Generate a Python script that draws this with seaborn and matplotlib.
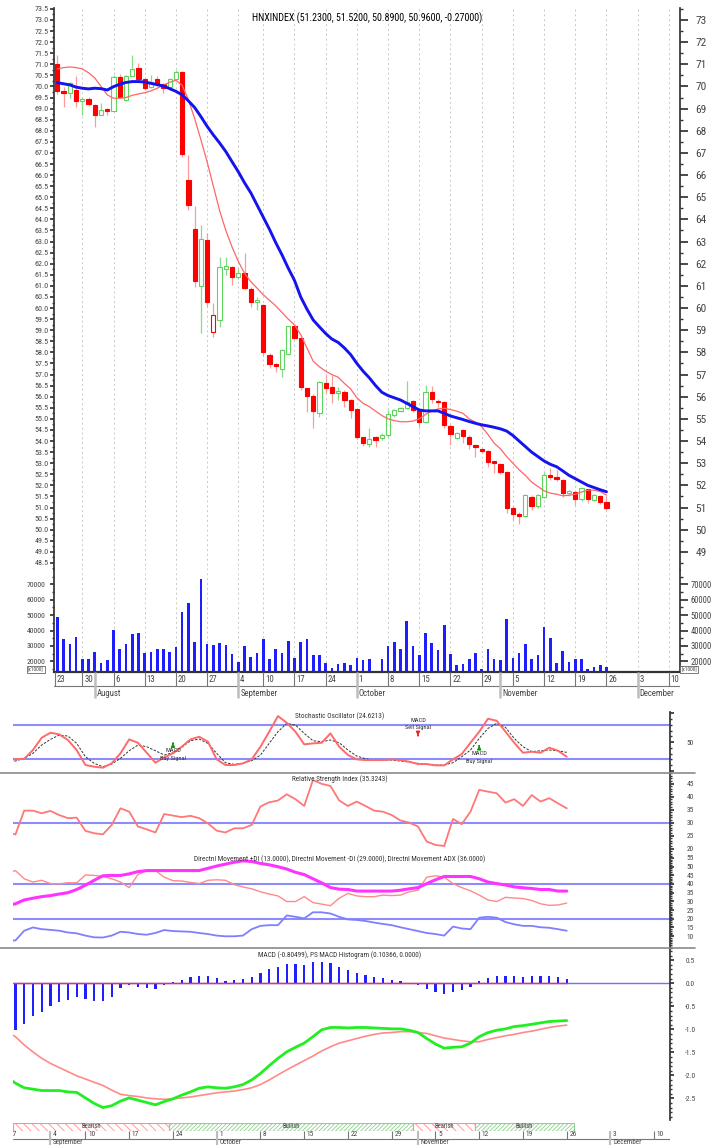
import matplotlib
matplotlib.use("Agg")
import matplotlib.pyplot as plt
import seaborn as sns
import pandas as pd
from matplotlib import font_manager
from matplotlib.lines import Line2D
from matplotlib.patches import Rectangle
from matplotlib.ticker import MultipleLocator, FixedLocator, FormatStrFormatter

# ---------------- data (trading day index, 0 = 23 Jul 2012) ----------------
days = list(range(1, 90))
opens = [71.00, 69.80, 69.70, 69.85, 69.33, 69.42, 69.16, 68.72, 68.98, 68.90,
         70.44, 69.40, 70.47, 70.85, 70.34, 69.96, 70.34, 70.10, 69.96, 70.32,
         70.64, 65.78, 63.57, 61.00, 63.06, 58.93, 59.46, 61.77, 61.84, 61.40,
         61.60, 60.86, 60.29, 60.14, 57.88, 57.48, 57.24, 57.91, 59.20, 58.66,
         56.38, 56.03, 55.28, 56.63, 56.42, 56.15, 56.23, 55.85, 55.43, 54.17,
         53.88, 54.18, 54.12, 54.27, 55.18, 55.37, 55.48, 55.81, 55.40, 54.87,
         56.20, 55.82, 55.75, 54.68, 54.15, 54.50, 54.20, 53.80, 53.66, 53.56,
         53.08, 52.96, 52.60, 51.00, 50.72, 50.60, 51.49, 51.05, 51.49, 52.48,
         52.36, 52.24, 51.64, 51.70, 51.38, 51.82, 51.36, 51.52, 51.23]
highs = [71.42, 69.96, 70.20, 70.47, 69.50, 69.54, 69.20, 69.24, 69.05, 70.50,
         70.55, 70.50, 71.42, 71.05, 70.40, 70.52, 70.45, 70.15, 70.40, 70.72,
         70.68, 66.90, 64.62, 63.75, 63.40, 60.24, 62.32, 62.32, 61.90, 61.80,
         62.50, 60.95, 60.50, 60.20, 57.95, 57.50, 58.15, 59.20, 59.25, 58.70,
         56.40, 56.10, 56.70, 56.98, 56.96, 56.45, 56.30, 55.90, 55.45, 54.20,
         54.57, 54.22, 54.35, 55.40, 55.45, 55.55, 56.71, 55.85, 55.45, 56.53,
         56.48, 55.90, 55.80, 54.75, 54.40, 54.55, 54.25, 53.85, 53.70, 53.60,
         53.12, 53.00, 52.65, 51.05, 50.78, 51.60, 51.55, 51.60, 52.60, 52.77,
         52.70, 52.28, 51.80, 51.75, 51.90, 51.85, 51.60, 51.58, 51.52]
lows = [69.65, 69.09, 69.47, 69.09, 68.71, 69.10, 68.19, 68.70, 68.71, 68.89,
        69.50, 69.35, 70.45, 70.20, 69.85, 69.94, 70.00, 69.69, 69.85, 70.30,
        66.83, 64.43, 60.97, 58.89, 60.06, 58.71, 59.16, 61.50, 61.04, 61.30,
        60.85, 60.06, 59.91, 57.84, 57.28, 57.13, 56.90, 57.90, 58.60, 56.30,
        55.32, 54.57, 55.10, 56.17, 55.70, 55.85, 55.55, 55.03, 54.10, 53.78,
        53.72, 53.75, 54.05, 54.20, 55.10, 55.30, 55.45, 55.30, 54.65, 54.80,
        55.70, 55.55, 54.60, 53.82, 54.10, 53.90, 53.65, 53.29, 53.45, 52.84,
        52.54, 52.50, 50.74, 50.44, 50.26, 50.55, 50.89, 51.00, 51.45, 52.25,
        52.20, 51.46, 51.50, 51.11, 51.30, 51.22, 51.30, 51.15, 50.89]
closes = [69.81, 69.70, 70.14, 69.35, 69.45, 69.20, 68.71, 68.94, 68.90, 70.44,
          69.54, 70.47, 70.78, 70.34, 69.95, 70.22, 70.10, 69.92, 70.32, 70.64,
          66.95, 64.65, 61.22, 63.10, 60.26, 59.69, 61.84, 61.88, 61.42, 61.60,
          60.89, 60.26, 60.36, 58.03, 57.48, 57.40, 58.10, 59.19, 58.66, 56.45,
          56.05, 55.37, 56.68, 56.38, 56.18, 56.25, 55.85, 55.40, 54.20, 53.90,
          54.08, 54.06, 54.27, 55.20, 55.40, 55.50, 55.77, 55.40, 54.87, 56.20,
          55.88, 55.75, 54.72, 54.32, 54.34, 54.23, 53.87, 53.72, 53.56, 53.07,
          53.00, 52.59, 51.00, 50.71, 50.62, 51.56, 51.07, 51.56, 52.47, 52.36,
          52.27, 51.64, 51.74, 51.37, 51.87, 51.37, 51.56, 51.23, 50.96]
volume = [48960, 34300, 31200, 35800, 21700, 21300, 26000, 19100, 20800, 40100,
          28000, 31200, 37900, 38600, 25400, 26000, 27800, 28200, 26000, 29100,
          52200, 57700, 32500, 73200, 31200, 30400, 32100, 30600, 24500, 19500,
          29700, 22800, 25600, 34700, 21700, 27800, 25200, 33200, 22300, 32700,
          34300, 24300, 24300, 18700, 15800, 18200, 19100, 17600, 22300, 20800,
          21300, 13500, 21700, 30100, 32500, 28200, 46000, 29700, 24300, 38400,
          32100, 27100, 43800, 24900, 17400, 18100, 21700, 25200, 14800, 28200,
          21700, 20800, 47500, 22100, 25200, 31200, 21700, 23900, 42300, 35100,
          18900, 26500, 19500, 21500, 21300, 15000, 16500, 17400, 16300]
ma_fast = [70.79, 70.85, 70.88, 70.85, 70.79, 70.62, 70.38, 70.00, 69.62, 69.47,
           69.47, 69.50, 69.60, 69.66, 69.72, 69.80, 69.92, 70.06, 70.19, 70.28,
           70.05, 69.40, 68.55, 67.60, 66.60, 65.50, 64.40, 63.50, 62.75, 62.10,
           61.57, 61.19, 60.90, 60.60, 60.35, 60.10, 59.80, 59.50, 59.24, 58.80,
           58.20, 57.60, 57.35, 57.15, 57.00, 56.88, 56.60, 56.35, 55.95, 55.70,
           55.55, 55.35, 55.15, 55.00, 54.92, 54.87, 54.87, 54.90, 55.00, 55.20,
           55.35, 55.45, 55.48, 55.42, 55.35, 55.25, 55.00, 54.85, 54.65, 54.30,
           53.90, 53.65, 53.30, 53.00, 52.70, 52.45, 52.15, 51.95, 51.75, 51.65,
           51.60, 51.53, 51.55, 51.60, 51.70, 51.78, 51.78, 51.72, 51.56]
ma_slow = [70.17, 70.12, 70.07, 69.97, 69.92, 69.89, 69.92, 69.90, 69.84, 69.99,
           70.10, 70.18, 70.22, 70.22, 70.20, 70.14, 70.08, 70.02, 69.90, 69.78,
           69.62, 69.35, 69.05, 68.64, 68.20, 67.81, 67.45, 67.06, 66.60, 66.15,
           65.65, 65.20, 64.65, 64.10, 63.55, 62.95, 62.40, 61.80, 61.25, 60.50,
           59.95, 59.46, 59.15, 58.85, 58.60, 58.45, 58.20, 57.90, 57.50, 57.15,
           56.85, 56.50, 56.20, 56.05, 55.95, 55.85, 55.70, 55.55, 55.40, 55.36,
           55.36, 55.36, 55.25, 55.13, 55.05, 54.97, 54.88, 54.80, 54.73, 54.68,
           54.62, 54.55, 54.45, 54.25, 54.00, 53.75, 53.50, 53.30, 53.10, 52.95,
           52.84, 52.65, 52.45, 52.30, 52.15, 52.00, 51.90, 51.80, 51.71]

ind_days = list(range(25, 90))
stoch_k = [19.0, 20.0, 21.1, 36.1, 57.5, 66.2, 63.3, 53.5, 36.1, 10.2, 7.3, 5.6, 13.1,
           30.4, 54.6, 48.8, 31.5, 14.2, 23.5, 30.4, 41.9, 54.6, 59.2, 50.6, 20.0,
           10.2, 10.2, 13.1, 20.0, 41.9, 67.9, 95.0, 83.5, 67.9, 46.0, 47.7, 48.8,
           65.0, 41.9, 27.5, 20.0, 18.8, 18.8, 18.8, 20.0, 18.8, 15.9, 11.9, 11.9,
           9.6, 9.6, 20.0, 29.2, 48.8, 67.9, 90.4, 86.9, 67.9, 48.8, 31.5, 33.3,
           31.5, 40.2, 35.0, 24.6]
stoch_d = [16.0, 17.1, 21.7, 30.4, 44.8, 54.6, 62.1, 60.4, 47.7, 24.6, 13.1, 7.3, 11.9,
           21.7, 35.0, 44.8, 41.9, 35.0, 27.5, 31.5, 40.8, 52.3, 55.2, 47.7, 30.4,
           14.2, 11.3, 13.1, 17.7, 27.5, 47.7, 67.9, 82.3, 79.4, 65.0, 52.3, 50.6,
           53.5, 48.8, 36.1, 25.8, 21.1, 18.8, 18.8, 18.8, 17.1, 15.4, 13.1, 11.3,
           10.2, 10.2, 14.2, 24.6, 36.1, 56.3, 73.7, 82.3, 75.4, 56.3, 41.9, 33.3,
           35.0, 36.1, 35.0, 32.1]
rsi = [26.5, 25.4, 34.6, 34.6, 33.6, 34.5, 32.9, 31.7, 31.9, 26.8, 25.9, 25.5, 29.1,
       35.5, 34.2, 28.5, 27.4, 26.2, 33.3, 32.7, 32.1, 32.6, 31.7, 29.7, 26.9,
       26.2, 27.8, 27.8, 29.1, 36.2, 37.8, 38.5, 40.9, 39.0, 36.4, 46.4, 44.9,
       44.1, 38.5, 36.4, 38.1, 36.4, 34.6, 34.2, 32.9, 30.8, 30.0, 28.5, 22.7,
       21.4, 21.0, 31.4, 29.4, 34.2, 42.6, 41.9, 41.3, 37.7, 39.0, 36.4, 40.6,
       38.1, 39.4, 37.4, 35.5]
plus_di = [7.5, 7.5, 13.1, 15.0, 14.0, 13.6, 13.1, 12.1, 11.6, 10.3, 9.3, 9.2, 10.3,
           12.5, 12.1, 11.2, 10.8, 11.8, 13.5, 12.9, 12.7, 12.5, 11.8, 11.2, 10.3,
           9.9, 9.9, 10.3, 14.0, 15.9, 16.3, 16.3, 21.9, 21.1, 20.2, 23.7, 23.7,
           23.0, 21.1, 19.6, 19.3, 18.7, 17.8, 17.0, 16.3, 15.1, 14.0, 12.9, 11.8,
           11.2, 10.3, 15.5, 14.4, 14.0, 20.6, 21.1, 20.6, 18.1, 16.8, 15.9, 15.9,
           15.1, 14.8, 14.0, 13.1]
minus_di = [46.0, 47.7, 43.0, 41.1, 42.1, 40.2, 40.0, 40.7, 40.6, 45.2, 44.9, 44.3, 43.0,
            41.1, 37.9, 45.4, 47.7, 47.7, 43.9, 41.9, 41.7, 40.9, 40.2, 42.1, 42.4,
            42.1, 39.6, 38.3, 37.2, 35.5, 34.2, 33.1, 29.9, 29.9, 32.7, 29.3, 28.4,
            27.5, 31.8, 34.6, 33.1, 32.7, 32.7, 33.6, 33.3, 33.6, 35.5, 36.4, 43.9,
            44.7, 43.9, 40.2, 37.9, 36.1, 33.6, 30.8, 29.9, 32.3, 31.9, 31.6, 30.5,
            28.6, 27.7, 27.9, 29.0]
adx = [27.5, 28.6, 30.8, 31.8, 32.7, 33.3, 34.2, 35.0, 36.8, 39.3, 42.1, 44.7, 44.9,
       44.9, 45.8, 47.1, 47.7, 47.7, 47.7, 47.7, 47.7, 47.7, 47.7, 49.0, 50.3,
       51.4, 52.5, 53.3, 52.9, 51.8, 51.0, 49.9, 48.6, 46.7, 45.4, 43.0, 40.6,
       37.9, 37.0, 36.8, 35.9, 35.9, 35.9, 35.9, 35.9, 36.4, 37.2, 37.9, 40.2,
       42.4, 44.3, 44.3, 44.3, 44.3, 43.0, 41.1, 40.2, 39.4, 38.3, 37.8, 37.4,
       36.8, 36.8, 35.9, 35.9]
macd = [-2.03, -2.17, -2.27, -2.30, -2.33, -2.33, -2.33, -2.36, -2.37, -2.49, -2.61,
        -2.70, -2.66, -2.56, -2.49, -2.54, -2.59, -2.64, -2.57, -2.51, -2.43, -2.36,
        -2.28, -2.25, -2.27, -2.28, -2.25, -2.20, -2.10, -1.96, -1.79, -1.63, -1.49,
        -1.39, -1.30, -1.16, -1.01, -0.96, -0.96, -0.97, -0.96, -0.96, -0.97, -0.98,
        -0.99, -0.99, -1.02, -1.07, -1.20, -1.32, -1.41, -1.39, -1.38, -1.30, -1.16,
        -1.07, -1.02, -0.99, -0.94, -0.92, -0.89, -0.86, -0.83, -0.82, -0.81]
macd_signal = [-1.05, -1.16, -1.34, -1.49, -1.63, -1.74, -1.83, -1.92, -2.01, -2.08,
               -2.15, -2.22, -2.32, -2.41, -2.44, -2.46, -2.49, -2.51, -2.52, -2.51,
               -2.49, -2.47, -2.44, -2.41, -2.38, -2.36, -2.34, -2.31, -2.27, -2.20,
               -2.10, -1.99, -1.88, -1.78, -1.68, -1.58, -1.47, -1.38, -1.30, -1.25,
               -1.20, -1.15, -1.11, -1.08, -1.07, -1.05, -1.05, -1.07, -1.09, -1.14,
               -1.19, -1.22, -1.25, -1.27, -1.27, -1.22, -1.18, -1.14, -1.11, -1.07,
               -1.04, -1.00, -0.96, -0.93, -0.91]
hist_days = list(range(26, 90))
macd_hist = [-1.01, -0.89, -0.72, -0.62, -0.49, -0.41, -0.36, -0.29, -0.34, -0.38, -0.38,
             -0.29, -0.11, -0.04, -0.07, -0.11, -0.13, -0.04, 0.02, 0.065, 0.13, 0.15,
             0.16, 0.11, 0.05, 0.07, 0.09, 0.13, 0.22, 0.30, 0.36, 0.41, 0.42, 0.40,
             0.46, 0.46, 0.43, 0.36, 0.28, 0.23, 0.18, 0.14, 0.11, 0.07, 0.04, 0.015,
             -0.04, -0.13, -0.20, -0.23, -0.18, -0.14, -0.09, 0.05, 0.11, 0.16, 0.16,
             0.16, 0.145, 0.16, 0.16, 0.15, 0.13, 0.10]

week_pos = [0, 5, 10, 15, 20, 25, 30, 34, 39, 44, 49, 54, 59, 64, 69, 74, 79, 84, 89, 94, 99]
week_lab = ["23", "30", "6", "13", "20", "27", "4", "10", "17", "24", "1", "8", "15",
            "22", "29", "5", "12", "19", "26", "3", "10"]
month_pos = [7, 30, 49, 72, 94]
month_lab = ["August", "September", "October", "November", "December"]

trend_lab = ["Bearish", "Bullish", "Bearish", "Bullish"]
trend_from = [25.7, 43.6, 71.4, 78.5]
trend_to = [43.6, 71.4, 78.5, 89.8]

signal_day = [44, 72, 79]
signal_kind = ["Buy", "Sell", "Buy"]

# ---------------- style ----------------
sns.set_theme(style="white")
fonts = font_manager.fontManager.ttflist
names = {f.name for f in fonts}
family, stretch, narrow = "Liberation Sans", "normal", False
for cand in ["Liberation Sans Narrow", "Arial Narrow", "Roboto Condensed",
             "Open Sans Condensed", "Noto Sans Condensed"]:
    if cand in names:
        family, narrow = cand, True
        break
if not narrow:
    for f in fonts:
        if (f.name in ("Roboto", "Noto Sans", "Open Sans", "Liberation Sans")
                and f.stretch in ("condensed", "semi-condensed")
                and f.style == "normal" and f.weight in (400, "normal", "regular")):
            family, stretch, narrow = f.name, f.stretch, True
            break
plt.rcParams["font.family"] = [family, "DejaVu Sans"]
plt.rcParams["font.stretch"] = stretch
plt.rcParams["hatch.linewidth"] = 0.6
K = 1.0 if narrow else 0.86   # shrink text when no condensed face exists

TXT = "#444444"
SPINE = "#333333"
RED, RED_W = "#ff0000", "#ff9a9a"
GREEN, GREEN_W = "#5ed35e", "#86de86"
REF = "#8c8cff"

W, H = 715, 1145
fig = plt.figure(figsize=(W / 100, H / 100), dpi=100)


def panel(l, t, r, b):
    return fig.add_axes([l / W, 1 - b / H, (r - l) / W, (b - t) / H])


def ptext(x, y, s, **kw):
    fig.text(x / W, 1 - y / H, s, **kw)


def only_spines(ax, keep):
    for k, sp in ax.spines.items():
        sp.set_visible(k in keep)
        sp.set_color(SPINE)


price = pd.DataFrame({"day": days, "open": opens, "high": highs, "low": lows,
                      "close": closes, "vol": volume, "fast": ma_fast, "slow": ma_slow})
ind = pd.DataFrame({"day": ind_days, "k": stoch_k, "d": stoch_d, "rsi": rsi,
                    "pdi": plus_di, "mdi": minus_di, "adx": adx,
                    "macd": macd, "sig": macd_signal})

MAIN_X = (0.51, 100.7)
LOW_X = (25.7, 100.8)

# ---------------- price panel ----------------
ax_p = panel(54.3, 8, 679.5, 570)
ax_p.set_xlim(*MAIN_X)
ax_p.set_ylim(48.18, 73.54)
for p in week_pos:
    if p > MAIN_X[0]:
        ax_p.axvline(p, color="#c8c8c8", lw=0.7, ls=(0, (2, 3)), zorder=0)

prev = [opens[0]] + closes[:-1]
rise = [c > q for c, q in zip(closes, prev)]
hollow = [c > o for c, o in zip(closes, opens)]
edge = [GREEN if r else RED for r in rise]
wick = [GREEN_W if r else RED_W for r in rise]
face = ["white" if h else e for h, e in zip(hollow, edge)]
ax_p.vlines(price["day"], price["low"], price["high"], colors=wick, lw=0.9, zorder=2)
ax_p.bar(price["day"], (price["close"] - price["open"]).abs().clip(lower=0.03),
         bottom=price[["open", "close"]].min(axis=1), width=0.68,
         color=face, edgecolor=edge, linewidth=0.8, zorder=3)
sns.lineplot(data=price, x="day", y="fast", ax=ax_p, color="#ff6666", lw=0.9, zorder=4)
sns.lineplot(data=price, x="day", y="slow", ax=ax_p, color="#1414ee", lw=2.1, zorder=4)
ax_p.set(xlabel=None, ylabel=None, xticks=[])
only_spines(ax_p, ["left"])
ax_p.yaxis.set_major_locator(MultipleLocator(0.5))
ax_p.yaxis.set_minor_locator(MultipleLocator(0.25))
ax_p.yaxis.set_major_formatter(FormatStrFormatter("%.1f"))
ax_p.tick_params(axis="y", which="both", left=True, direction="out", labelsize=5.8 * K,
                 labelcolor=TXT, color=SPINE, pad=1)
ax_p.tick_params(axis="y", which="major", length=3)
ax_p.tick_params(axis="y", which="minor", length=1.5)

ax_pr = ax_p.twinx()
only_spines(ax_pr, ["right"])
ax_pr.yaxis.set_major_locator(MultipleLocator(1))
ax_pr.yaxis.set_minor_locator(MultipleLocator(0.5))
ax_pr.yaxis.set_major_formatter(FormatStrFormatter("%d"))
ax_pr.tick_params(axis="y", which="both", right=True, direction="out", labelsize=8.2 * K,
                  labelcolor=TXT, color=SPINE, pad=5.5)
ax_pr.tick_params(axis="y", which="minor", length=2)
ax_pr.set_ylim(48.18, 73.54)

ptext(367, 18, "HNXINDEX (%.4f, %.4f, %.4f, %.4f, %.5f)" % (
    opens[-1], highs[-1], lows[-1], closes[-1], closes[-1] - closes[-2]),
    ha="center", va="center", fontsize=(7.2 if narrow else 6.6), color="black")

# ---------------- volume panel ----------------
ax_v = panel(54.3, 570, 679.5, 672)
ax_v.set_xlim(*MAIN_X)
for p in week_pos:
    if p > MAIN_X[0]:
        ax_v.axvline(p, color="#c8c8c8", lw=0.7, ls=(0, (2, 3)), zorder=0)
ax_v.bar(price["day"], price["vol"], width=0.42, color="#1e1eff", linewidth=0, zorder=2)
ax_v.set_ylim(13050, 79300)
ax_v.set(xlabel=None, ylabel=None, xticks=[])
only_spines(ax_v, ["left", "bottom"])
ax_v.spines["bottom"].set_linewidth(1.6)
ax_v.yaxis.set_major_locator(MultipleLocator(10000))
ax_v.yaxis.set_minor_locator(MultipleLocator(5000))
ax_v.yaxis.set_major_formatter(FormatStrFormatter("%d"))
ax_v.tick_params(axis="y", which="both", left=True, direction="out", labelsize=5.6 * K,
                 labelcolor=TXT, color=SPINE, pad=3.2)
ax_v.tick_params(axis="y", which="major", length=3)
ax_v.tick_params(axis="y", which="minor", length=1.5)
ax_vr = ax_v.twinx()
only_spines(ax_vr, ["right"])
ax_vr.set_ylim(13050, 79300)
ax_vr.yaxis.set_major_locator(MultipleLocator(10000))
ax_vr.yaxis.set_minor_locator(MultipleLocator(5000))
ax_vr.yaxis.set_major_formatter(FormatStrFormatter("%d"))
ax_vr.tick_params(axis="y", which="both", right=True, direction="out", labelsize=6.2 * K,
                  labelcolor=TXT, color=SPINE, pad=2)
ax_vr.tick_params(axis="y", which="minor", length=2)
box_style = dict(boxstyle="square,pad=0.12", fc="white", ec="#666666", lw=0.6)
ptext(36, 669.3, "[x1000]", ha="center", va="center", fontsize=4.0, color=TXT, bbox=box_style)
ptext(689, 669.3, "[x1000]", ha="center", va="center", fontsize=4.0, color=TXT, bbox=box_style)

# ---------------- main date strip ----------------
ax_d = panel(54.3, 672, 679.5, 700)
ax_d.set_xlim(*MAIN_X)
ax_d.set_ylim(1, 0)
ax_d.axis("off")
ax_d.axhline(0.5, color="#777777", lw=0.8)
for p, s in zip(week_pos, week_lab):
    p = max(p, MAIN_X[0] + 0.05)
    ax_d.vlines(p, 0, 0.5, color="#777777", lw=0.8)
    ax_d.text(p + 0.3, 0.26, s, ha="left", va="center", fontsize=6.3 * K, color=TXT)
for p, s in zip(month_pos, month_lab):
    ax_d.vlines(p, 0, 0.93, color="#bdbdbd", lw=1.8)
    ax_d.text(p + 0.3, 0.76, s, ha="left", va="center", fontsize=6.3 * K, color=TXT)


# ---------------- lower panels ----------------
def lower(t, b, lo, hi, major, minor, labels):
    ax = panel(12.8, t, 670, b)
    ax.set_xlim(*LOW_X)
    ax.set_ylim(lo, hi)
    only_spines(ax, ["right"])
    ax.set_xticks([])
    ax.yaxis.tick_right()
    ax.yaxis.set_major_locator(major)
    ax.yaxis.set_minor_locator(minor)
    ax.tick_params(axis="y", which="both", right=True, left=False, direction="out",
                   labelsize=5.3 * K, labelcolor=TXT, color=SPINE, pad=11.5)
    ax.tick_params(axis="y", which="major", length=3)
    ax.tick_params(axis="y", which="minor", length=1.5)
    ax.yaxis.set_major_formatter(labels)
    return ax


def finish(ax):
    ax.set(xlabel=None, ylabel=None)
    for lab in ax.get_yticklabels():
        lab.set_horizontalalignment("center")


# stochastic
ax_s = lower(711.7, 772.7, -3.1, 102.6, FixedLocator([0, 50, 100]), MultipleLocator(10),
             FormatStrFormatter("%d"))
ax_s.axhline(80, color=REF, lw=1.5)
ax_s.axhline(20, color=REF, lw=1.5)
sns.lineplot(data=ind, x="day", y="d", ax=ax_s, color="#333333", lw=0.7,
             linestyle=(0, (2.5, 1.5)))
sns.lineplot(data=ind, x="day", y="k", ax=ax_s, color="#ff6a6a", lw=1.4)
ax_s.set_yticks([0, 50, 100], ["", "50", ""])
finish(ax_s)
sig_layout = {"Buy": (43, 53.5, 35, 21), "Sell": (66, 56, 88, 75)}
sig_shift = [0, 0, -4.5]
for d, kind, sh in zip(signal_day, signal_kind, sig_shift):
    tail, tip, t1, t2 = sig_layout[kind]
    col = "#119911" if kind == "Buy" else "#ee2222"
    ax_s.annotate("", xy=(d, tip + sh), xytext=(d, tail + sh),
                  arrowprops=dict(arrowstyle="-|>", color=col, lw=1.1, mutation_scale=5))
    ax_s.text(d, t1 + sh, "MACD", ha="center", va="center", fontsize=4.6 * K, color="#333333")
    ax_s.text(d, t2 + sh, kind + " Signal", ha="center", va="center", fontsize=4.6 * K,
              color="#333333")
ptext(340, 716.5, "Stochastic Oscillator (24.6213)", ha="center", va="center",
      fontsize=5.2 * K, color="#333333")

# RSI
ax_r = lower(772.7, 853, 18.3, 49.2, MultipleLocator(5), MultipleLocator(1),
             FormatStrFormatter("%d"))
ax_r.axhline(30, color=REF, lw=1.5)
sns.lineplot(data=ind, x="day", y="rsi", ax=ax_r, color="#ff7777", lw=1.3)
finish(ax_r)
ptext(340, 779, "Relative Strength Index (35.3243)", ha="center", va="center",
      fontsize=5.2 * K, color="#333333")

# DMI
ax_m = lower(853, 948.3, 3.0, 57.8, FixedLocator(list(range(10, 60, 5))), MultipleLocator(1),
             FormatStrFormatter("%d"))
ax_m.axhline(40, color=REF, lw=1.5)
ax_m.axhline(20, color=REF, lw=1.5)
sns.lineplot(data=ind, x="day", y="pdi", ax=ax_m, color="#7f7fff", lw=1.3)
sns.lineplot(data=ind, x="day", y="mdi", ax=ax_m, color="#ff8a8a", lw=1.0)
sns.lineplot(data=ind, x="day", y="adx", ax=ax_m, color="#ff33ff", lw=2.2)
finish(ax_m)
ptext(340, 859, "Directnl Movement +DI (13.0000), Directnl Movement -DI (29.0000), "
      "Directnl Movement ADX (36.0000)", ha="center", va="center", fontsize=5.2 * K,
      color="#333333")

# MACD
ax_c = lower(948.3, 1120, -2.97, 0.76, MultipleLocator(0.5), MultipleLocator(0.1),
             FormatStrFormatter("%.1f"))
ax_c.axhline(0, color="#7070ff", lw=1.0)
ax_c.hlines(0, LOW_X[0], ind_days[-1], color="#ff3030", lw=1.0, zorder=3)
ax_c.bar(hist_days, macd_hist, width=0.26, color="#2020ff", linewidth=0, zorder=2)
sns.lineplot(data=ind, x="day", y="sig", ax=ax_c, color="#ff8a8a", lw=1.2)
sns.lineplot(data=ind, x="day", y="macd", ax=ax_c, color="#22ee22", lw=2.0)
finish(ax_c)
ptext(340, 955, "MACD (-0.80499), PS MACD Histogram (0.10366, 0.0000)", ha="center",
      va="center", fontsize=5.2 * K, color="#333333")

# separators
for y in (772.7, 948.3):
    fig.add_artist(Line2D([0, 695 / W], [1 - y / H] * 2, color="#8a8a8a", lw=1.2,
                          transform=fig.transFigure))

# trend strip
ax_t = panel(12.8, 1122.5, 670, 1131)
ax_t.set_xlim(*LOW_X)
ax_t.set_ylim(0, 1)
ax_t.axis("off")
for a, b, s in zip(trend_from, trend_to, trend_lab):
    col = "#ff8f8f" if s == "Bearish" else "#8fd08f"
    ax_t.add_patch(Rectangle((a, 0.03), b - a, 0.94, facecolor="white", edgecolor=col,
                             hatch="\\\\\\\\" if s == "Bearish" else "////////", lw=0.8))
    ax_t.text((a + b) / 2, 0.5, s, ha="center", va="center", fontsize=4.8 * K,
              color="#444444")

# lower date strip
ax_d2 = panel(12.8, 1131, 670, 1152)
ax_d2.set_xlim(*LOW_X)
ax_d2.set_ylim(1, 0)
ax_d2.axis("off")
ax_d2.axhline(0.38, color="#777777", lw=0.8)
for p, s in zip(week_pos, week_lab):
    if p < LOW_X[0] - 1:
        continue
    ax_d2.vlines(p, 0, 0.38, color="#777777", lw=0.8)
    ax_d2.text(p + 0.3, 0.19, s, ha="left", va="center", fontsize=5.3 * K, color=TXT,
               clip_on=True)
for p, s in zip(month_pos, month_lab):
    if p < LOW_X[0]:
        continue
    ax_d2.vlines(p, 0, 1, color="#bdbdbd", lw=1.5)
    ax_d2.text(p + 0.3, 0.57, s, ha="left", va="center", fontsize=5.0 * K, color=TXT)

fig.savefig("out.png", dpi=100)
